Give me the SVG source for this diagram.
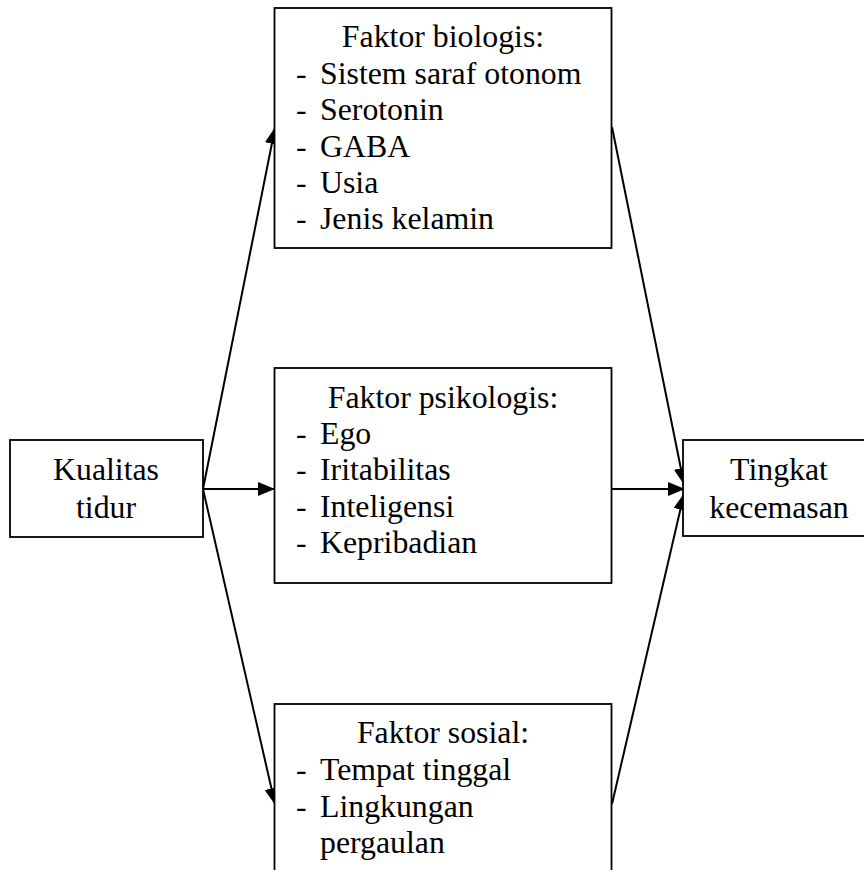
<svg xmlns="http://www.w3.org/2000/svg" width="864" height="870" viewBox="0 0 864 870">
<style>
.box{fill:#fff;stroke:#000;stroke-width:1.8}
.c{text-anchor:middle}
.e{fill:none;stroke:#000;stroke-width:2}
</style>
<defs>
<marker id="ah" markerWidth="17" markerHeight="14" refX="16" refY="7" orient="auto" markerUnits="userSpaceOnUse">
<path d="M0,0 L17,7 L0,14 Z" fill="#000"/>
</marker>
</defs>
<rect width="864" height="870" fill="#fff"/>
<g id="connectors">
<line class="e" x1="203" y1="489" x2="275" y2="128" marker-end="url(#ah)"/>
<line class="e" x1="203" y1="489" x2="274" y2="489" marker-end="url(#ah)"/>
<line class="e" x1="203" y1="489" x2="275" y2="804" marker-end="url(#ah)"/>
<line class="e" x1="612" y1="127" x2="684" y2="484" marker-end="url(#ah)"/>
<line class="e" x1="612" y1="489" x2="684" y2="489" marker-end="url(#ah)"/>
<line class="e" x1="612" y1="804" x2="684" y2="494" marker-end="url(#ah)"/>
</g>
<g font-family="Liberation Serif, Times New Roman, serif" font-size="31.8" fill="#000">
<g id="kualitas">
<rect class="box" x="10" y="440" width="193" height="97"/>
<text class="c" x="106" y="480">Kualitas</text>
<text class="c" x="106" y="518">tidur</text>
</g>
<g id="biologis">
<rect class="box" x="274.5" y="8" width="337" height="240"/>
<text class="c" x="443" y="47">Faktor biologis:</text>
<text x="296" y="84">-</text><text x="320" y="84">Sistem saraf otonom</text>
<text x="296" y="120">-</text><text x="320" y="120">Serotonin</text>
<text x="296" y="157">-</text><text x="320" y="157">GABA</text>
<text x="296" y="193">-</text><text x="320" y="193">Usia</text>
<text x="296" y="229">-</text><text x="320" y="229">Jenis kelamin</text>
</g>
<g id="psikologis">
<rect class="box" x="274.5" y="368" width="337" height="215"/>
<text class="c" x="443" y="408">Faktor psikologis:</text>
<text x="296" y="444">-</text><text x="320" y="444">Ego</text>
<text x="296" y="480">-</text><text x="320" y="480">Iritabilitas</text>
<text x="296" y="517">-</text><text x="320" y="517">Inteligensi</text>
<text x="296" y="553">-</text><text x="320" y="553">Kepribadian</text>
</g>
<g id="sosial">
<rect class="box" x="274.5" y="704" width="337" height="200"/>
<text class="c" x="443" y="743">Faktor sosial:</text>
<text x="296" y="780">-</text><text x="320" y="780">Tempat tinggal</text>
<text x="296" y="817">-</text><text x="320" y="817">Lingkungan</text>
<text x="320" y="853">pergaulan</text>
</g>
<g id="kecemasan">
<rect class="box" x="683" y="440" width="200" height="96"/>
<text class="c" x="779" y="480">Tingkat</text>
<text class="c" x="779" y="518">kecemasan</text>
</g>
</g>
</svg>
